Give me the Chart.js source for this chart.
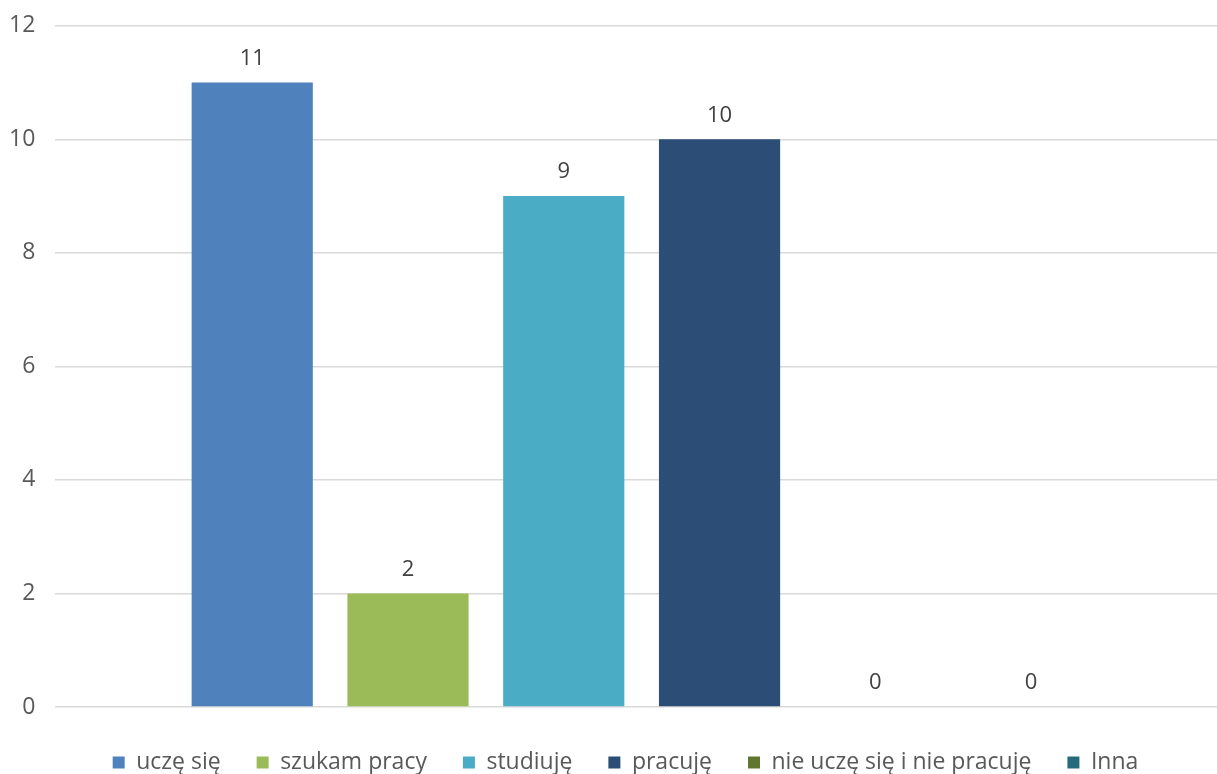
<!DOCTYPE html>
<html>
<head>
<meta charset="utf-8">
<script src="https://cdn.jsdelivr.net/npm/chart.js@4.4.1/dist/chart.umd.min.js"></script>
<style>
  html, body { margin: 0; padding: 0; background: #fff; overflow: hidden; }
  #wrap { width: 1228px; height: 785px; margin-top: -8px; }
</style>
</head>
<body>
<div id="wrap"><canvas id="barchart"></canvas></div>
<script>
var seriesNames = ['uczę się', 'szukam pracy', 'studiuję', 'pracuję', 'nie uczę się i nie pracuję', 'Inna'];
var seriesValues = [11, 2, 9, 10, 0, 0];
var colors = ['#4F81BD', '#9BBB59', '#4BACC6', '#2C4D75', '#5F7530', '#276A7C'];
var yTicks = [0, 2, 4, 6, 8, 10, 12];

var fontFamily = '"Open Sans", sans-serif';

var datasets = [];
for (var i in seriesNames) {
  datasets.push({
    label: seriesNames[i],
    data: [seriesValues[i]],
    backgroundColor: colors[i],
    borderWidth: 0,
    barPercentage: 0.778,
    categoryPercentage: 0.797
  });
}

// value above every bar, zeros included
var valueLabels = {
  id: 'valueLabels',
  afterDatasetsDraw: function(chart) {
    var ctx = chart.ctx;
    ctx.save();
    ctx.font = '22px ' + fontFamily;
    ctx.fillStyle = '#404040';
    ctx.textAlign = 'center';
    ctx.textBaseline = 'middle';
    chart.data.datasets.forEach(function(ds, i) {
      var bar = chart.getDatasetMeta(i).data[0];
      ctx.fillText(ds.data[0], bar.x, bar.y - 24);
    });
    ctx.restore();
  }
};

// nudge the legend row a little to the right
var legendShift = {
  id: 'legendShift',
  afterLayout: function(chart) {
    chart.legend.left += 17;
    chart.legend.right += 17;
  }
};

var ctx = document.getElementById('barchart');
new Chart(ctx, {
  type: 'bar',
  data: { labels: [''], datasets: datasets },
  plugins: [valueLabels, legendShift],
  options: {
    responsive: true,
    maintainAspectRatio: false,
    animation: false,
    layout: { padding: { left: -11, right: 0, top: 0, bottom: -7 } },
    plugins: {
      tooltip: { enabled: false },
      legend: {
        position: 'bottom',
        labels: {
          boxWidth: 12,
          boxHeight: 12,
          padding: 36,
          color: '#595959',
          font: { size: 23, family: fontFamily }
        }
      }
    },
    scales: {
      x: {
        ticks: { display: false },
        grid: { display: false },
        border: { display: false }
      },
      y: {
        min: 0,
        max: 12,
        afterBuildTicks: function(axis) {
          axis.ticks = yTicks.map(function(v) { return { value: v }; });
        },
        ticks: {
          padding: 20,
          color: '#595959',
          font: { size: 23, family: fontFamily }
        },
        grid: { color: '#D9D9D9', lineWidth: 1.5, drawTicks: false },
        border: { display: false }
      }
    }
  }
});
</script>
</body>
</html>
